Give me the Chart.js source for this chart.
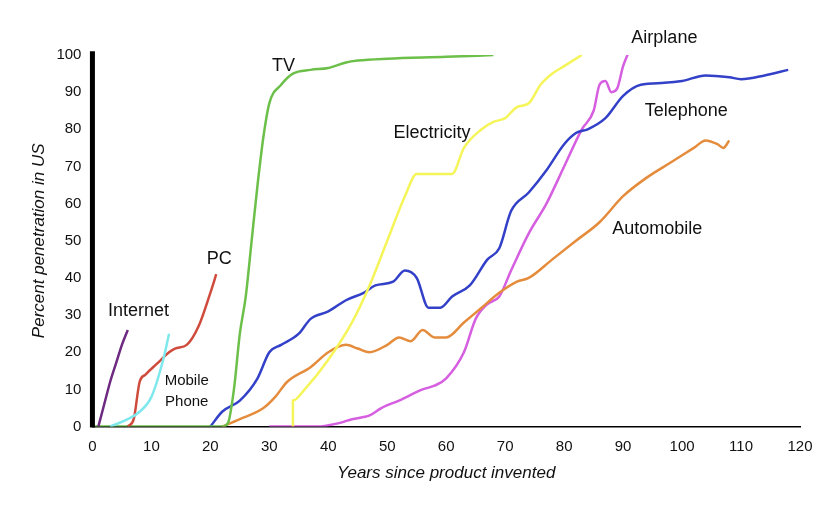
<!DOCTYPE html><html><head><script src="https://cdn.jsdelivr.net/npm/chart.js@4"></script>
<style>body{margin:0;background:#fff}#w{width:832px;height:513px}</style></head><body><div id="w"><canvas id="c"></canvas></div>
<script>
const internet=[[1,0],[2,6],[3,12],[4,17],[5,22],[6,26]];
const mobile=[[3,0],[6,2],[8,4],[10,8],[12,18],[13,25]];
const pc=[[6,0],[7,2],[8,12],[9,14],[11,17],[13,20],[14,21],[16,22],[18,27],[20,36],[21,41]];
const tv=[[0,0],[20,0],[22,0],[23,1],[24,10],[25,25],[26,35],[27,50],[28,65],[29,78],[30,87],[32,92],[34,95],[37,96],[40,96.5],[43,98],[45,98.5],[50,99],[60,99.5],[68,100]];
const electricity=[[34,0],[34,7],[36,10],[40,18],[44,28],[47,38],[50,50],[53,62],[55,68],[58,68],[61,68],[63,75],[66,80],[68,82],[70,83],[72,86],[74,87],[76,92],[78,95],[80,97],[83,100]];
const telephone=[[20,0],[22,4],[25,7],[28,13],[30,20],[32,22],[35,25],[37,29],[40,31],[43,34],[46,36],[48,38],[51,39],[53,42],[55,40],[57,32],[59,32],[61,35],[64,38],[67,45],[69,48],[71,58],[74,63],[77,69],[80,76],[82,79],[84,80],[87,83],[90,89],[93,92],[97,92.5],[100,93],[104,94.5],[108,94],[110,93.5],[114,94.5],[118,96]];
const automobile=[[22,0],[25,2],[29,5],[31,8],[33,12],[37,16],[40,20],[43,22],[45,21],[47,20],[50,22],[52,24],[54,23],[56,26],[58,24],[60,24],[63,28],[66,32],[69,36],[72,39],[74,40],[78,45],[82,50],[86,55],[90,62],[94,67],[98,71],[102,75],[104,77],[106,76],[107,75],[108,77]];
const airplane=[[30,0],[38,0],[42,1],[44,2],[47,3],[49,5],[52,7],[56,10],[58,11],[60,13],[63,20],[65,29],[67,33],[69,35],[71,42],[74,52],[77,60],[80,70],[83,80],[85,85],[86,92],[87,93],[88,90],[89,91],[90,97],[91,101]];
const xTicks=[0,10,20,30,40,50,60,70,80,90,100,110,120];
const yTicks=[0,10,20,30,40,50,60,70,80,90,100];
const labels=[["Internet",7.8,31,18],["PC",21.5,45,18],["Mobile",16,12.3,15],["Phone",16,6.7,15],["TV",32.4,97,18],["Electricity",57.6,79,18],["Airplane",97,104.5,18],["Telephone",100.7,85,18],["Automobile",95.8,53.3,18]];
const series=[[internet,'#6e2a80'],[mobile,'#7fe8ec'],[pc,'#cf4b3b'],[tv,'#6cc04a'],[electricity,'#f5f55a'],[telephone,'#3340c8'],[automobile,'#e58c3c'],[airplane,'#d65ee0']];
const lab={id:'lab',afterDatasetsDraw(ch){const c=ch.ctx,x=ch.scales.x,y=ch.scales.y;c.save();c.fillStyle='#111';c.textAlign='center';c.textBaseline='middle';
labels.forEach(l=>{c.font=l[3]+'px "Liberation Sans", Arial';c.fillText(l[0],x.getPixelForValue(l[1]),y.getPixelForValue(l[2]));});
c.strokeStyle='#000';c.lineWidth=5;c.beginPath();c.moveTo(x.left,y.getPixelForValue(101));c.lineTo(x.left,y.bottom+1);c.stroke();c.restore();}};
new Chart(document.getElementById('c'),{type:'line',data:{datasets:series.map(s=>({data:s[0].map(p=>({x:p[0],y:p[1]})),borderColor:s[1],borderWidth:2.5,pointRadius:0,tension:0.4,cubicInterpolationMode:'monotone',fill:false}))},
options:{responsive:true,maintainAspectRatio:false,animation:false,layout:{padding:{top:55,right:32,left:25,bottom:26}},plugins:{legend:{display:false},tooltip:{enabled:false}},
scales:{x:{type:'linear',min:0,max:120,grid:{display:false,drawTicks:true},border:{color:'#000',width:1.5},afterBuildTicks:a=>{a.ticks=xTicks.map(v=>({value:v}))},ticks:{color:'#111',font:{size:15,family:'Liberation Sans'}},title:{display:true,text:'Years since product invented',font:{size:17,style:'italic',family:'Liberation Sans'},color:'#111'}},
y:{min:0,max:100,grid:{display:false},border:{color:'#000',width:1.5},afterBuildTicks:a=>{a.ticks=yTicks.map(v=>({value:v}))},ticks:{color:'#111',font:{size:15,family:'Liberation Sans'}},title:{display:true,text:'Percent penetration in US',font:{size:17,style:'italic',family:'Liberation Sans'},color:'#111'}}}},plugins:[lab]});
</script></body></html>
